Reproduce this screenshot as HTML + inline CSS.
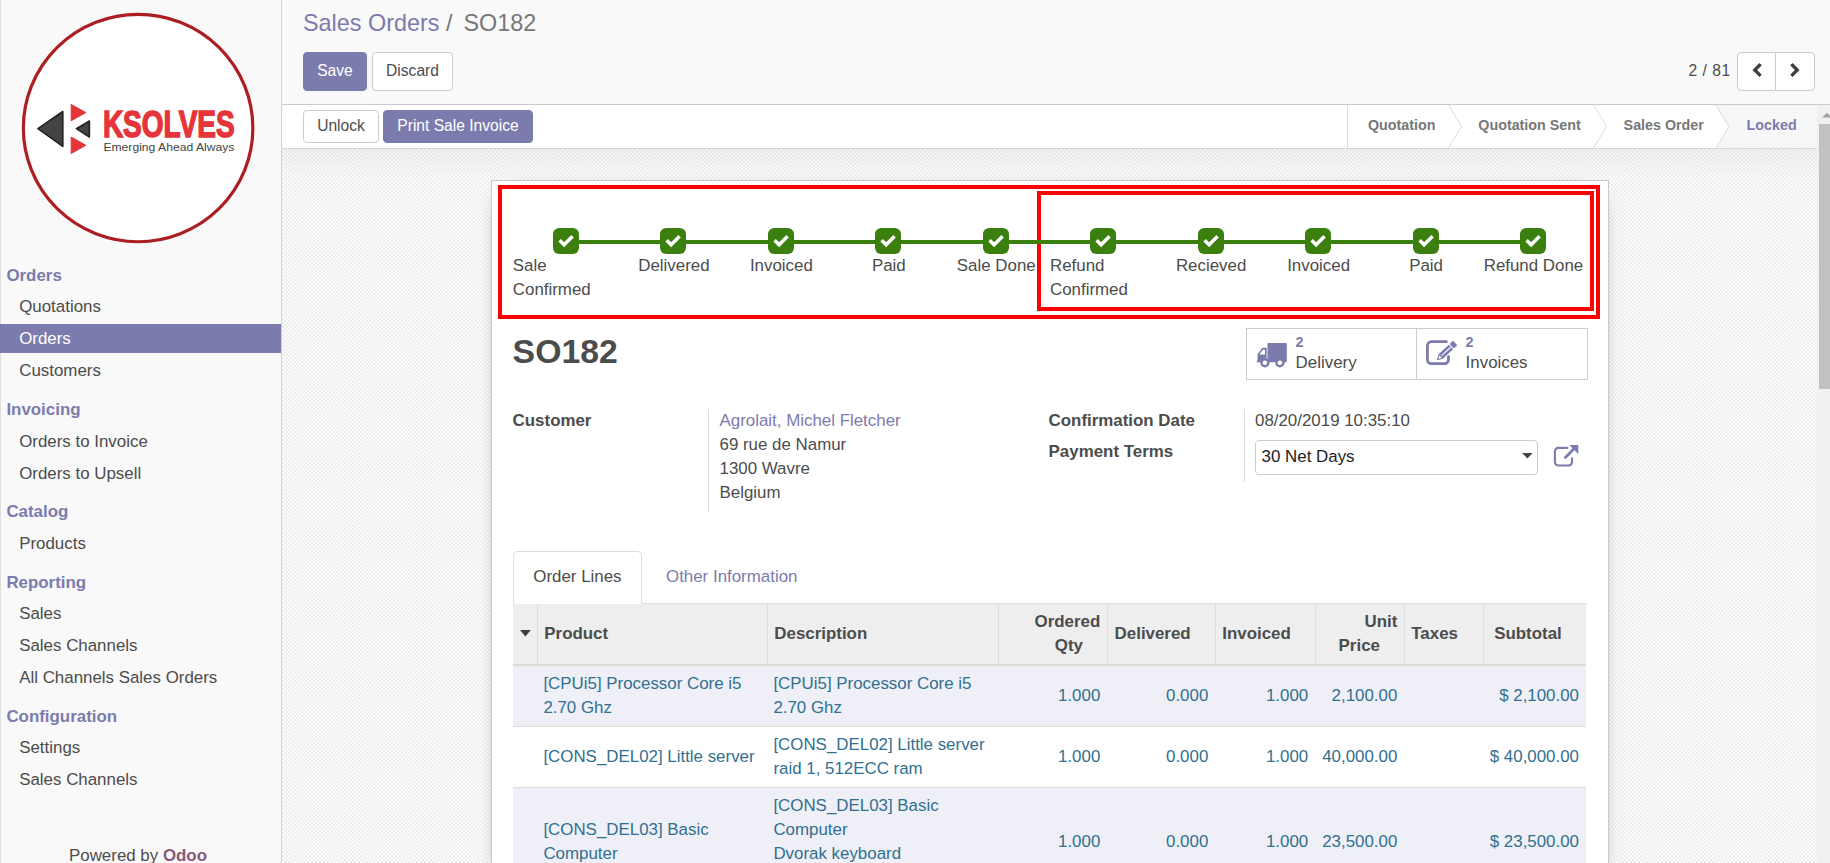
<!DOCTYPE html>
<html lang="en">
<head>
<meta charset="utf-8">
<title>SO182 - Odoo</title>
<style>
*{box-sizing:border-box;margin:0;padding:0}
html,body{width:1830px;height:863px;overflow:hidden;background:#f9f9f9}
body{font-family:"Liberation Sans",Arial,sans-serif;font-size:16.9px;line-height:24.14px;color:#4c4c4c;position:relative}
.abs{position:absolute}
a{color:#7c7bad;text-decoration:none}
b,strong{font-weight:bold}

/* ---------- sidebar ---------- */
#side{position:absolute;left:0;top:0;width:282px;height:863px;background:linear-gradient(to right,#dedede 0,#dedede 1px,#f9f9f9 1px);border-right:1px solid #d0d0d0}
#side .hd{position:absolute;left:6.4px;margin-top:1px;font-weight:bold;color:#7c7bad;font-size:16.9px;white-space:nowrap;line-height:24px}
#side .it{position:absolute;left:0;width:281px;padding-left:19.2px;padding-top:1px;height:29px;line-height:28.6px;color:#4c4c4c;white-space:nowrap}
#side .it.on{background:#7c7bad;color:#fff}
#pw{position:absolute;left:0;width:276px;text-align:center;top:844px;line-height:24px;color:#4c4c4c}
#pw b{color:#875a7b}

/* ---------- control panel ---------- */
#cp{position:absolute;left:282px;top:0;width:1548px;height:105px;background:#f9f9f9;border-bottom:1px solid #cacaca}
#bc{position:absolute;left:21px;top:6.4px;font-size:23.4px;line-height:34px;white-space:nowrap;color:#777}
#bc a{color:#7c7bad}
.btn{position:absolute;border:1px solid #ccc;border-radius:4px;background:#fff;color:#4c4c4c;font-size:15.6px;text-align:center;white-space:nowrap}
.btn.p{background:#7c7bad;border-color:#7c7bad;color:#fff}

/* ---------- status bar ---------- */
#sb{position:absolute;left:282px;top:105px;width:1535px;height:44px;background:#fff;border-bottom:1px solid #d6d6d6}
.st{position:absolute;top:0;height:43px;line-height:43px;font-size:14.3px;font-weight:bold;color:#777;white-space:nowrap}

/* ---------- content ---------- */
#bg{position:absolute;left:282px;top:149px;width:1535px;height:714px;
 background:linear-gradient(to bottom,rgba(0,0,0,.035),rgba(0,0,0,0) 26px),repeating-conic-gradient(#ebebeb 0% 25%,#fefefe 0% 50%) 0 0/3.9px 3.9px}
#sheet{position:absolute;left:491px;top:180px;width:1118px;height:700px;background:#fff;border:1px solid #c8c8d3;box-shadow:0 5px 20px -15px #000}
#scroll{position:absolute;left:1817px;top:105px;width:13px;height:758px;background:#f1f1f1}
#thumb{position:absolute;left:2px;top:19px;width:11px;height:265px;background:#c1c1c1}

/* ---------- tracker ---------- */
#trk{position:absolute;left:512.3px;top:228px;width:1074.4px;height:90px}
#trk .ln{position:absolute;left:53.7px;top:12px;width:967px;height:4px;background:#3b7f0f}
#trk .sp{position:absolute;top:0;width:107.44px;text-align:center}
#trk .sp svg{display:block;margin:0 auto}
#trk .sp span{display:inline-block;text-align:left;margin-top:0;vertical-align:top;position:relative;left:.5px}
.rbx{position:absolute;border:4px solid #ff0000}
h1#ttl{position:absolute;left:512.6px;top:331px;font-size:33.8px;line-height:40px;font-weight:bold;color:#4c4c4c}
.lbl{position:absolute;font-weight:bold;white-space:nowrap}
.val{position:absolute;white-space:nowrap}
.vsep{position:absolute;width:1px;background:#ddd}
#stat{position:absolute;left:1246px;top:328px;width:342px;height:52px;border:1px solid #ccc;background:#fff}
#stat .dv{position:absolute;left:168.6px;top:0;width:1px;height:50px;background:#ccc}
#stat .n{position:absolute;font-size:14.3px;font-weight:bold;color:#7c7bad;line-height:16px}
#stat .t{position:absolute;font-size:16.9px;line-height:20px;color:#4c4c4c}

/* ---------- notebook ---------- */
#tabline{position:absolute;left:513px;top:603px;width:1074px;height:1px;background:#ddd}
#tab1{position:absolute;left:513px;top:551px;width:128.8px;height:53px;border:1px solid #ddd;border-bottom:1px solid #fff;border-radius:5px 5px 0 0;background:#fff;text-align:center;line-height:49px;color:#4c4c4c;padding-top:0}
#tab2{position:absolute;left:666px;top:552px;line-height:49px;color:#7c7bad;white-space:nowrap}
#tbl{position:absolute;left:513px;top:604px;width:1073.2px;height:260px;overflow:hidden}
#tbl .th{position:absolute;left:0;top:0;width:1074px;height:62px;background:#eee;border-bottom:2px solid #dbdbd9}
#tbl .cd{position:absolute;top:0;width:1px;height:60px;background:#dedede}
#tbl .h{position:absolute;font-weight:bold;white-space:nowrap;color:#4c4c4c;line-height:24.14px}
#tbl .r{position:absolute;left:0;width:1074px;border-bottom:1px solid #ddd;color:#31708f}
#tbl .r.o{background:#efeff7}
#tbl .c{position:absolute;white-space:nowrap;line-height:24.14px;color:#31708f}
#tbl .c.n{text-align:right}
</style>
</head>
<body>

<!-- SIDEBAR -->
<div id="side">
  <svg class="abs" style="left:1px;top:0" width="280" height="260" viewBox="0 0 280 260">
    <ellipse cx="137.1" cy="128.05" rx="114.75" ry="113.7" fill="#fff" stroke="#ad1e22" stroke-width="3.2"/>
    <g stroke-linejoin="round" stroke-width="1.6">
      <polygon points="36.9,128.7 61.8,111.5 61.8,146.4" fill="#434343" stroke="#222"/>
      <polygon points="75.4,128.7 88.4,121 88.4,137" fill="#434343" stroke="#222"/>
      <polygon points="70.2,104.4 84.8,112.6 70.2,120.8" fill="#e5343a" stroke="#e5343a" stroke-width="1"/>
      <polygon points="70.2,137.1 84.8,145.2 70.2,153.6" fill="#e5343a" stroke="#e5343a" stroke-width="1"/>
    </g>
    <text x="101.9" y="136.7" font-family="Liberation Sans, Arial, sans-serif" font-weight="bold" font-size="37.6" fill="#e5343a" stroke="#e5343a" stroke-width="1.5" stroke-linejoin="miter" textLength="131.8" lengthAdjust="spacingAndGlyphs">KSOLVES</text>
    <text x="102.4" y="150.7" font-family="Liberation Sans, Arial, sans-serif" font-size="11.3" fill="#444" textLength="131" lengthAdjust="spacingAndGlyphs">Emerging Ahead Always</text>
  </svg>
  <div class="hd" style="top:263px">Orders</div>
  <div class="it" style="top:291.8px">Quotations</div>
  <div class="it on" style="top:323.8px">Orders</div>
  <div class="it" style="top:355.8px">Customers</div>
  <div class="hd" style="top:397px">Invoicing</div>
  <div class="it" style="top:426.8px">Orders to Invoice</div>
  <div class="it" style="top:458.8px">Orders to Upsell</div>
  <div class="hd" style="top:499px">Catalog</div>
  <div class="it" style="top:528.8px">Products</div>
  <div class="hd" style="top:570px">Reporting</div>
  <div class="it" style="top:598.8px">Sales</div>
  <div class="it" style="top:630.8px">Sales Channels</div>
  <div class="it" style="top:662.8px">All Channels Sales Orders</div>
  <div class="hd" style="top:704px">Configuration</div>
  <div class="it" style="top:732.8px">Settings</div>
  <div class="it" style="top:764.8px">Sales Channels</div>
  <div id="pw">Powered by <b>Odoo</b></div>
</div>

<!-- CONTROL PANEL -->
<div id="cp">
  <div id="bc"><a>Sales Orders</a> / <span style="margin-left:4.5px">SO182</span></div>
  <div class="btn p" style="left:21px;top:52px;width:64px;height:39px;line-height:36px">Save</div>
  <div class="btn" style="left:90px;top:52px;width:81px;height:39px;line-height:36px">Discard</div>
  <div class="abs" style="left:1406.5px;top:59px;font-size:15.6px;line-height:24px;white-space:nowrap;letter-spacing:.55px">2 / 81</div>
  <div class="btn" style="left:1455px;top:52px;width:38.5px;height:39px;border-radius:4px 0 0 4px">
    <svg width="14" height="16" viewBox="0 0 14 16" style="position:absolute;left:13.3px;top:8.5px"><path d="M9.6 2.2 L3.8 8 L9.6 13.8" fill="none" stroke="#3d3d3d" stroke-width="3.3"/></svg>
  </div>
  <div class="btn" style="left:1492.5px;top:52px;width:40.5px;height:39px;border-radius:0 4px 4px 0">
    <svg width="14" height="16" viewBox="0 0 14 16" style="position:absolute;left:11.8px;top:8.5px"><path d="M4.4 2.2 L10.2 8 L4.4 13.8" fill="none" stroke="#3d3d3d" stroke-width="3.3"/></svg>
  </div>
</div>

<!-- STATUS BAR -->
<div id="sb">
  <div class="btn" style="left:21px;top:5px;width:76px;height:33px;line-height:30px">Unlock</div>
  <div class="btn p" style="left:101px;top:5px;width:150px;height:33px;line-height:30px">Print Sale Invoice</div>
  <svg class="abs" style="left:1060px;top:0" width="475" height="43" viewBox="0 0 475 43">
    <polygon points="374,0 387,21.5 374,43 475,43 475,0" fill="#f7f7f7"/>
    <g fill="none" stroke="#dcdcdc" stroke-width="1">
      <line x1="5.5" y1="0" x2="5.5" y2="43"/>
      <polyline points="106.5,0 119.5,21.5 106.5,43"/>
      <polyline points="251.5,0 264.5,21.5 251.5,43"/>
      <polyline points="374,0 387,21.5 374,43"/>
    </g>
    <g font-family="Liberation Sans, Arial, sans-serif" font-size="14.3" font-weight="bold" fill="#777">
      <text x="26" y="25">Quotation</text>
      <text x="136.3" y="25">Quotation Sent</text>
      <text x="281.6" y="25">Sales Order</text>
      <text x="404.6" y="25" fill="#7c7bad">Locked</text>
    </g>
  </svg>
</div>

<!-- CONTENT -->
<div id="bg"></div>
<div id="sheet"></div>
<div class="rbx" style="left:498px;top:185px;width:1102px;height:133.5px"></div>
<div class="rbx" style="left:1037.3px;top:190.8px;width:556.5px;height:120.4px"></div>
<div id="trk">
    <div class="ln"></div>
    <div class="sp" style="left:0.00px"><svg width="26" height="26" viewBox="0 0 26 26"><rect x="0" y="0" width="26" height="26" rx="6.2" fill="#3b7f0f"/><path d="M6.6 12.2 L11.1 16.7 L19.6 8.2" fill="none" stroke="#fff" stroke-width="3.5"/></svg><span>Sale Confirmed</span></div>
    <div class="sp" style="left:107.44px"><svg width="26" height="26" viewBox="0 0 26 26"><rect x="0" y="0" width="26" height="26" rx="6.2" fill="#3b7f0f"/><path d="M6.6 12.2 L11.1 16.7 L19.6 8.2" fill="none" stroke="#fff" stroke-width="3.5"/></svg><span>Delivered</span></div>
    <div class="sp" style="left:214.88px"><svg width="26" height="26" viewBox="0 0 26 26"><rect x="0" y="0" width="26" height="26" rx="6.2" fill="#3b7f0f"/><path d="M6.6 12.2 L11.1 16.7 L19.6 8.2" fill="none" stroke="#fff" stroke-width="3.5"/></svg><span>Invoiced</span></div>
    <div class="sp" style="left:322.32px"><svg width="26" height="26" viewBox="0 0 26 26"><rect x="0" y="0" width="26" height="26" rx="6.2" fill="#3b7f0f"/><path d="M6.6 12.2 L11.1 16.7 L19.6 8.2" fill="none" stroke="#fff" stroke-width="3.5"/></svg><span>Paid</span></div>
    <div class="sp" style="left:429.76px"><svg width="26" height="26" viewBox="0 0 26 26"><rect x="0" y="0" width="26" height="26" rx="6.2" fill="#3b7f0f"/><path d="M6.6 12.2 L11.1 16.7 L19.6 8.2" fill="none" stroke="#fff" stroke-width="3.5"/></svg><span>Sale Done</span></div>
    <div class="sp" style="left:537.20px"><svg width="26" height="26" viewBox="0 0 26 26"><rect x="0" y="0" width="26" height="26" rx="6.2" fill="#3b7f0f"/><path d="M6.6 12.2 L11.1 16.7 L19.6 8.2" fill="none" stroke="#fff" stroke-width="3.5"/></svg><span>Refund Confirmed</span></div>
    <div class="sp" style="left:644.64px"><svg width="26" height="26" viewBox="0 0 26 26"><rect x="0" y="0" width="26" height="26" rx="6.2" fill="#3b7f0f"/><path d="M6.6 12.2 L11.1 16.7 L19.6 8.2" fill="none" stroke="#fff" stroke-width="3.5"/></svg><span>Recieved</span></div>
    <div class="sp" style="left:752.08px"><svg width="26" height="26" viewBox="0 0 26 26"><rect x="0" y="0" width="26" height="26" rx="6.2" fill="#3b7f0f"/><path d="M6.6 12.2 L11.1 16.7 L19.6 8.2" fill="none" stroke="#fff" stroke-width="3.5"/></svg><span>Invoiced</span></div>
    <div class="sp" style="left:859.52px"><svg width="26" height="26" viewBox="0 0 26 26"><rect x="0" y="0" width="26" height="26" rx="6.2" fill="#3b7f0f"/><path d="M6.6 12.2 L11.1 16.7 L19.6 8.2" fill="none" stroke="#fff" stroke-width="3.5"/></svg><span>Paid</span></div>
    <div class="sp" style="left:966.96px"><svg width="26" height="26" viewBox="0 0 26 26"><rect x="0" y="0" width="26" height="26" rx="6.2" fill="#3b7f0f"/><path d="M6.6 12.2 L11.1 16.7 L19.6 8.2" fill="none" stroke="#fff" stroke-width="3.5"/></svg><span>Refund Done</span></div>
</div>
<h1 id="ttl">SO182</h1>
<div id="stat">
  <div class="dv"></div>
  <svg class="abs" style="left:9px;top:12px" width="33" height="28" viewBox="0 0 33 28">
    <g fill="#7c7bad">
      <rect x="11.5" y="2" width="19.3" height="19.2" rx=".8"/>
      <path d="M10.7 6.7 V21.2 H1.6 V13.2 L5.8 7.5 Q6.4 6.7 7.4 6.7 Z"/>
      <rect x=".8" y="19.6" width="2" height="1.7"/>
    </g>
    <path d="M3.4 13.4 L6.9 8.8 H9 V13.4 Z" fill="#fff"/>
    <circle cx="8.9" cy="21.8" r="3.5" fill="#fff" stroke="#7c7bad" stroke-width="2.4"/>
    <circle cx="23.9" cy="21.8" r="3.5" fill="#fff" stroke="#7c7bad" stroke-width="2.4"/>
  </svg>
  <div class="n" style="left:48.6px;top:4.8px">2</div>
  <div class="t" style="left:48.6px;top:24px">Delivery</div>
  <svg class="abs" style="left:178px;top:10px" width="34" height="28" viewBox="0 0 34 28">
    <path d="M21.3 2.7 H6.4 A4 4 0 0 0 2.4 6.7 V20.6 A4 4 0 0 0 6.4 24.6 H19.5 A4 4 0 0 0 23.5 20.6 V17.6" fill="none" stroke="#7c7bad" stroke-width="2.8" stroke-linecap="round"/>
    <g transform="translate(11.7 21.2) rotate(-43)">
      <path d="M0 0 L5.5 -3.1 H19.4 V3.1 H5.5 Z" fill="#7c7bad"/>
      <rect x="20.5" y="-3.1" width="4.8" height="6.2" rx="1" fill="#7c7bad"/>
      <path d="M2.3 0 L5.3 -1.7 V1.7 Z" fill="#fff"/>
      <rect x="6.6" y="-.55" width="12" height="1.1" fill="#fff"/>
    </g>
  </svg>
  <div class="n" style="left:218.6px;top:4.8px">2</div>
  <div class="t" style="left:218.6px;top:24px">Invoices</div>
</div>

<div class="lbl" style="left:512.6px;top:409px">Customer</div>
<div class="vsep" style="left:708px;top:409px;height:103px"></div>
<div class="val" style="left:719.5px;top:409px;line-height:24px"><a>Agrolait, Michel Fletcher</a><br>69 rue de Namur<br>1300 Wavre<br>Belgium</div>

<div class="lbl" style="left:1048.6px;top:409px">Confirmation Date</div>
<div class="lbl" style="left:1048.6px;top:440.2px">Payment Terms</div>
<div class="vsep" style="left:1244px;top:409px;height:73px"></div>
<div class="val" style="left:1255px;top:409px">08/20/2019 10:35:10</div>
<div class="abs" style="left:1255px;top:440px;width:283px;height:35px;border:1px solid #ccc;border-radius:4px;background:#fff;color:#222;line-height:31.6px;padding-left:5.6px;white-space:nowrap">30 Net Days
  <svg class="abs" style="left:266.4px;top:11.9px" width="12" height="7" viewBox="0 0 12 7"><polygon points="0,0 10.7,0 5.35,5.4" fill="#444"/></svg>
</div>
<svg class="abs" style="left:1552px;top:443.5px" width="28" height="24" viewBox="0 0 28 24">
  <path d="M15.4 3.9 H6.3 A3.4 3.4 0 0 0 2.9 7.3 V18.1 A3.4 3.4 0 0 0 6.3 21.5 H16.6 A3.4 3.4 0 0 0 20 18.1 V14.2" fill="none" stroke="#7c7bad" stroke-width="2.1" stroke-linecap="round"/>
  <path d="M12.6 14.2 L23 3.8" stroke="#7c7bad" stroke-width="2.8" fill="none"/>
  <path d="M17.3 1 H26.3 V10 Z" fill="#7c7bad"/>
</svg>

<div id="scroll"><svg class="abs" style="left:0;top:0" width="13" height="19" viewBox="0 0 13 19"><polygon points="5,12.6 10,7.8 15,12.6" fill="#a3a3a3"/></svg><div id="thumb"></div></div>
<div id="tabline"></div>
<div id="tab1">Order Lines</div>
<div id="tab2">Other Information</div>
<div id="tbl">
  <div class="th"><div class="cd" style="left:23.6px"></div><div class="cd" style="left:253.7px"></div><div class="cd" style="left:485.0px"></div><div class="cd" style="left:594.2px"></div><div class="cd" style="left:702.2px"></div><div class="cd" style="left:802.1px"></div><div class="cd" style="left:891.2px"></div><div class="cd" style="left:969.9px"></div>
    <svg class="abs" style="left:7.4px;top:26px" width="11" height="7" viewBox="0 0 11 7"><polygon points="0,0 10.8,0 5.4,6.4" fill="#3d3d3d"/></svg>
    <div class="h" style="left:31.3px;top:17.5px">Product</div>
    <div class="h" style="left:261.3px;top:17.5px">Description</div>
    <div class="h" style="right:486.7px;top:6.2px;text-align:right">Ordered<br><span style="margin-right:17.4px">Qty</span></div>
    <div class="h" style="left:601.6px;top:17.5px">Delivered</div>
    <div class="h" style="left:709.3px;top:17.5px">Invoiced</div>
    <div class="h" style="right:189.7px;top:6.2px;text-align:right">Unit<br><span style="margin-right:17.4px">Price</span></div>
    <div class="h" style="left:898.3px;top:17.5px">Taxes</div>
    <div class="h" style="left:981.2px;top:17.5px">Subtotal</div>
  </div>
  <div class="r o" style="top:62px;height:61px">
    <div class="c" style="left:30.4px;top:6px">[CPUi5] Processor Core i5<br>2.70 Ghz</div>
    <div class="c" style="left:260.4px;top:6px">[CPUi5] Processor Core i5<br>2.70 Ghz</div><div class="c n" style="right:486.7px;top:18px">1.000</div><div class="c n" style="right:378.7px;top:18px">0.000</div><div class="c n" style="right:278.8px;top:18px">1.000</div><div class="c n" style="right:189.7px;top:18px">2,100.00</div><div class="c n" style="right:8.0px;top:18px">$ 2,100.00</div>
  </div>
  <div class="r" style="top:123px;height:61px">
    <div class="c" style="left:30.4px;top:17.5px">[CONS_DEL02] Little server</div>
    <div class="c" style="left:260.4px;top:5.5px">[CONS_DEL02] Little server<br>raid 1, 512ECC ram</div><div class="c n" style="right:486.7px;top:17.5px">1.000</div><div class="c n" style="right:378.7px;top:17.5px">0.000</div><div class="c n" style="right:278.8px;top:17.5px">1.000</div><div class="c n" style="right:189.7px;top:17.5px">40,000.00</div><div class="c n" style="right:8.0px;top:17.5px">$ 40,000.00</div>
  </div>
  <div class="r o" style="top:184px;height:110px">
    <div class="c" style="left:30.4px;top:29.5px">[CONS_DEL03] Basic<br>Computer</div>
    <div class="c" style="left:260.4px;top:5.5px">[CONS_DEL03] Basic<br>Computer<br>Dvorak keyboard<br>left-handed mouse</div><div class="c n" style="right:486.7px;top:41.6px">1.000</div><div class="c n" style="right:378.7px;top:41.6px">0.000</div><div class="c n" style="right:278.8px;top:41.6px">1.000</div><div class="c n" style="right:189.7px;top:41.6px">23,500.00</div><div class="c n" style="right:8.0px;top:41.6px">$ 23,500.00</div>
  </div>
</div>

</body>
</html>
